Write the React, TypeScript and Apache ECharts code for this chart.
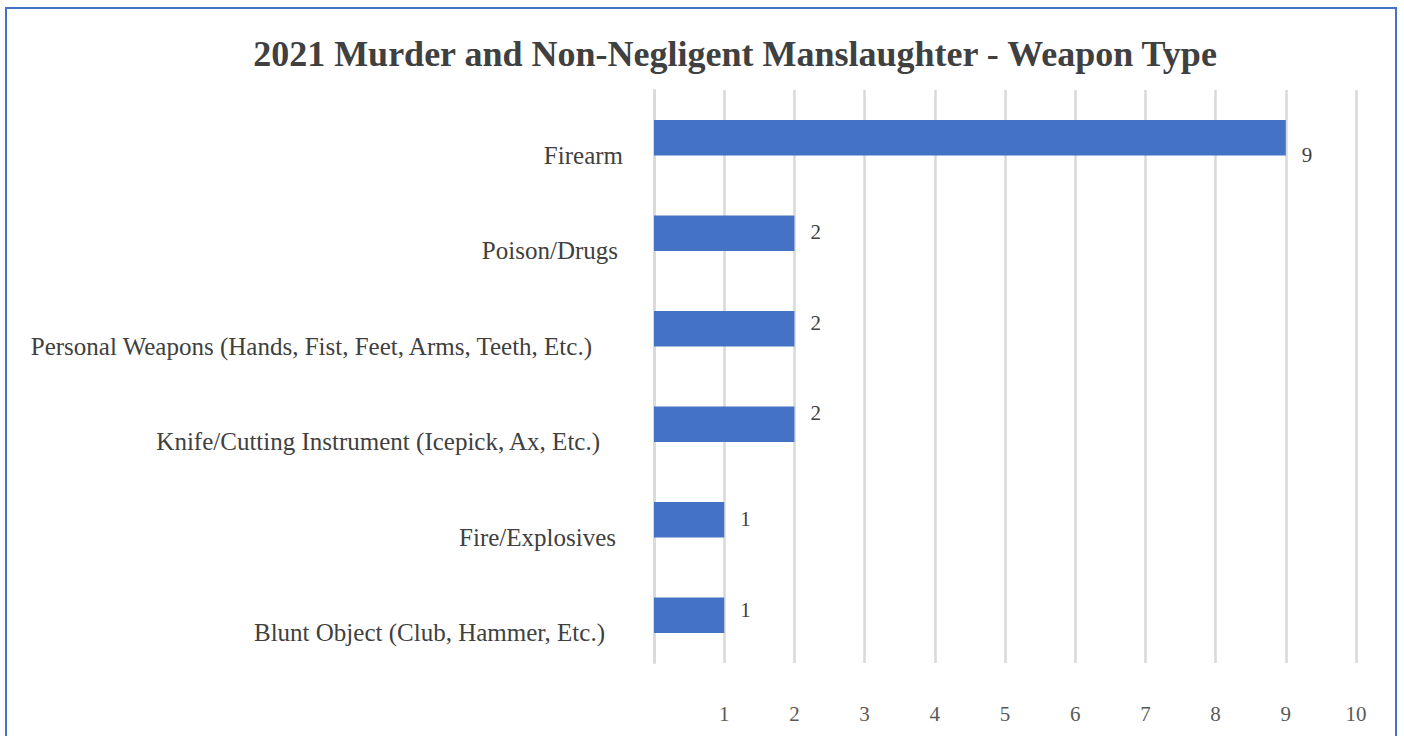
import React, { useEffect, useRef } from "react";
import * as echarts from "echarts";

const TITLE = "2021 Murder and Non-Negligent Manslaughter - Weapon Type";
const categories = [
  "Firearm",
  "Poison/Drugs",
  "Personal Weapons (Hands, Fist, Feet, Arms, Teeth, Etc.)",
  "Knife/Cutting Instrument (Icepick, Ax, Etc.)",
  "Fire/Explosives",
  "Blunt Object (Club, Hammer, Etc.)",
];
const counts = [9, 2, 2, 2, 1, 1];
const tickValues = [0, 10, 1];

// styling only: gap between each category label and the axis, and vertical shift of value labels
const labelGaps = [31, 36, 62, 54, 38, 49];
const valueLabelShift = [17, -1, -6, -11, -1, -5];

const SERIF = "Liberation Serif";

export default function App() {
  const ref = useRef<HTMLDivElement>(null);
  useEffect(() => {
    document.body.style.margin = "0";
    const chart = echarts.init(ref.current!, null, { renderer: "svg" });
    const rich: Record<string, any> = {};
    labelGaps.forEach((g, i) => {
      rich["r" + i] = {
        fontFamily: SERIF,
        fontSize: 25,
        color: "#404040",
        padding: [35, g, 0, 0],
      };
    });
    chart.setOption({
      animation: false,
      backgroundColor: "#ffffff",
      textStyle: { fontFamily: SERIF },
      title: {
        text: TITLE,
        left: 730,
        top: 31,
        textAlign: "center",
        textStyle: {
          fontFamily: SERIF,
          fontWeight: "bold",
          fontSize: 36,
          color: "#404040",
        },
      },
      graphic: [
        {
          type: "rect",
          shape: { x: 6, y: 8, width: 1390, height: 760 },
          style: { fill: "none", stroke: "#4472C4", lineWidth: 2 },
          silent: true,
        },
      ],
      grid: { left: 654, right: 48, top: 90, bottom: 73, containLabel: false },
      xAxis: {
        type: "value",
        min: tickValues[0],
        max: tickValues[1],
        interval: tickValues[2],
        axisLine: { show: false },
        axisTick: { show: false },
        splitLine: { show: true, lineStyle: { color: "#d9d9d9", width: 2.5 } },
        axisLabel: {
          margin: 40,
          fontFamily: SERIF,
          fontSize: 21,
          color: "#595959",
          formatter: (v: number) => (v === 0 ? "" : String(v)),
        },
      },
      yAxis: {
        type: "category",
        inverse: true,
        data: categories,
        axisLine: { show: true, lineStyle: { color: "#d9d9d9", width: 2.5 } },
        axisTick: { show: false },
        splitLine: { show: false },
        axisLabel: {
          margin: 0,
          fontFamily: SERIF,
          formatter: (v: string, i: number) => `{r${i}|${v}}`,
          rich,
        },
      },
      series: [
        {
          type: "bar",
          barWidth: "37%",
          itemStyle: { color: "#4472C4" },
          data: counts.map((v, i) => ({
            value: v,
            label: { offset: [0, valueLabelShift[i]] },
          })),
          label: {
            show: true,
            position: "right",
            distance: 16,
            fontFamily: SERIF,
            fontSize: 21,
            color: "#404040",
          },
        },
      ],
    });
    return () => chart.dispose();
  }, []);
  return <div ref={ref} style={{ width: 1404, height: 736 }} />;
}
